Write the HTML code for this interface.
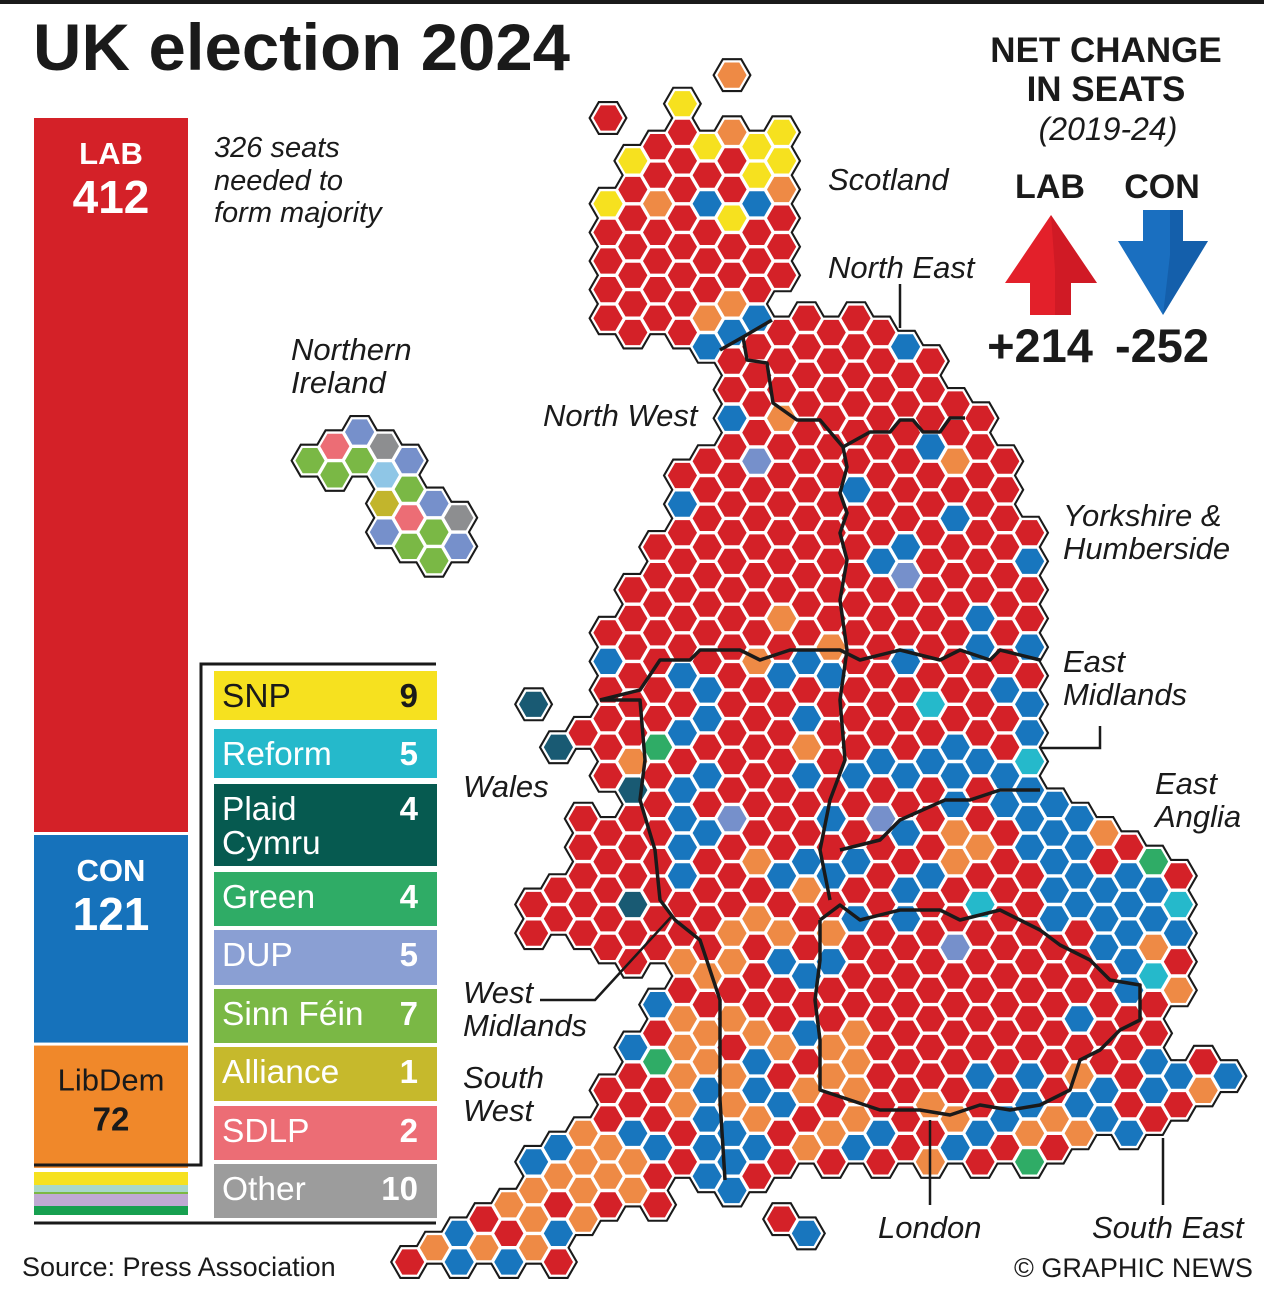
<!DOCTYPE html>
<html><head><meta charset="utf-8"><title>UK election 2024</title>
<style>
html,body{margin:0;padding:0;background:#fff;}
svg{display:block;font-family:"Liberation Sans",Arial,sans-serif;}
.it{font-style:italic;}
</style></head>
<body>
<svg id="chart" width="1264" height="1291" viewBox="0 0 1264 1291" xmlns="http://www.w3.org/2000/svg">
<rect x="0" y="0" width="1264" height="1291" fill="#fff"/>
<rect x="0" y="0" width="1264" height="4" fill="#1a1a1a"/>
<text x="33" y="70" font-size="66" font-weight="bold" fill="#1a1a1a" textLength="537" lengthAdjust="spacingAndGlyphs">UK election 2024</text>

<!-- seat bar -->
<g id="seatbar"></g>
<text class="it" font-size="29" fill="#1a1a1a"><tspan x="214" y="157">326 seats</tspan><tspan x="214" y="190">needed to</tspan><tspan x="214" y="222">form majority</tspan></text>

<!-- legend frame -->
<path d="M436,664 H201 V1165 H34" fill="none" stroke="#1a1a1a" stroke-width="3"/>
<line x1="34" y1="1223" x2="436" y2="1223" stroke="#1a1a1a" stroke-width="3"/>
<g id="legend"></g>

<!-- map -->
<g id="map"></g>
<g id="borders" fill="none" stroke="#1a1a1a" stroke-width="3.5" stroke-linejoin="round">
<polyline points="772,320 743,337 720,350"/>
<polyline points="743,337 747,360 767,363 773,403 797,420 820,420 843,447 847,467 840,493 847,513 840,533 847,560 840,600 847,650 840,700 845,760 830,800 820,850 830,900"/>
<polyline points="843,447 870,432 890,432 900,420 913,420 923,432 940,432 950,418 965,418"/>
<polyline points="600,700 640,690 660,660 690,660 700,650 740,650 760,660 790,650 840,650 860,660 900,650 940,660 960,650 990,660 1000,650 1040,660"/>
<polyline points="600,700 640,700 645,760 640,800 655,850 660,900 675,920 700,940 720,1000 720,1100 725,1180"/>
<polyline points="1040,790 1000,790 970,800 945,800 900,820 880,840 840,850"/>
<polyline points="820,920 840,905 860,920 900,910 940,910 960,920 1000,910 1040,930 1060,945 1090,960 1110,980 1140,985 1140,1020 1120,1030 1100,1050 1080,1060 1070,1090 1040,1105 1010,1110 980,1105 950,1115 920,1110 880,1110 850,1100 820,1090 820,1040 815,1000 820,960 820,920"/>
</g>

<!-- leader lines -->
<g stroke="#1a1a1a" stroke-width="2.5" fill="none">
<line x1="900" y1="284" x2="900" y2="328"/>
<polyline points="1040,748 1100,748 1100,726"/>
<polyline points="540,1000 595,1000 672,916"/>
<line x1="930" y1="1120" x2="930" y2="1205"/>
<line x1="1163" y1="1138" x2="1163" y2="1205"/>
</g>

<!-- region labels -->
<g class="it" font-size="31" fill="#1a1a1a">
<text x="828" y="190">Scotland</text>
<text x="828" y="278">North East</text>
<text><tspan x="291" y="360">Northern</tspan><tspan x="291" y="393">Ireland</tspan></text>
<text x="543" y="426">North West</text>
<text><tspan x="1063" y="526">Yorkshire &amp;</tspan><tspan x="1063" y="559">Humberside</tspan></text>
<text><tspan x="1063" y="672">East</tspan><tspan x="1063" y="705">Midlands</tspan></text>
<text x="463" y="797">Wales</text>
<text><tspan x="1155" y="794">East</tspan><tspan x="1155" y="827">Anglia</tspan></text>
<text><tspan x="463" y="1003">West</tspan><tspan x="463" y="1036">Midlands</tspan></text>
<text><tspan x="463" y="1088">South</tspan><tspan x="463" y="1121">West</tspan></text>
<text x="878" y="1238">London</text>
<text x="1092" y="1238">South East</text>
</g>

<!-- net change panel -->
<g fill="#1a1a1a" text-anchor="middle">
<text x="1106" y="62" font-size="35" font-weight="bold">NET CHANGE</text>
<text x="1106" y="101" font-size="35" font-weight="bold">IN SEATS</text>
<text x="1108" y="140" font-size="32" class="it">(2019-24)</text>
<text x="1050" y="198" font-size="34" font-weight="bold">LAB</text>
<text x="1162" y="198" font-size="34" font-weight="bold">CON</text>
<polygon points="1051,215 1097,283 1071,283 1071,315 1030,315 1030,283 1005,283" fill="#e3202a"/>
<polygon points="1051,215 1097,283 1071,283 1071,315 1055,315 1055,270" fill="#b8151e" opacity="0.45"/>
<polygon points="1143,210 1183,210 1183,241 1208,241 1163,315 1118,241 1143,241" fill="#1a6fc0"/>
<polygon points="1170,210 1183,210 1183,241 1208,241 1163,315 1170,255" fill="#0d4f95" opacity="0.5"/>
<text x="1040" y="362" font-size="47" font-weight="bold">+214</text>
<text x="1162" y="362" font-size="47" font-weight="bold">-252</text>
</g>

<text x="22" y="1276" font-size="27" fill="#1a1a1a">Source: Press Association</text>
<text x="1014" y="1277" font-size="27" fill="#1a1a1a">© GRAPHIC NEWS</text>
</svg>

<script>
// ---- data ----
const barParties = ["LAB", "CON", "LibDem"];
const barSeats = [412, 121, 72];
const legendParties = ["SNP", "Reform", "Plaid Cymru", "Green", "DUP", "Sinn Féin", "Alliance", "SDLP", "Other"];
const legendSeats = [9, 5, 4, 4, 5, 7, 1, 2, 10];
// GB hex map: column index -> list of [firstRow,lastRow] spans
const mapColumns = [-8,-7,-6,-5,-4,-3,-2,-1,0,1,2,3,4,5,6,7,8,9,10,11,12,13,14,15,16,17,18,19,20,21,22,23,24,25];
const mapSpans = [
 [[40,40]],[[40,40]],[[39,40]],[[39,40]],[[38,40]],
 [[21,21],[28,29],[37,40]],[[22,22],[27,28],[36,40]],[[22,22],[25,29],[36,39]],
 [[0,0],[3,7],[18,23],[25,29],[34,38]],[[2,8],[17,30],[33,38]],[[1,7],[15,29],[31,38]],
 [[0,8],[13,37]],[[1,8],[12,37]],[[-1,-1],[1,38]],[[1,37]],[[1,6],[8,37],[39,39]],
 [[7,36],[39,39]],[[8,37]],[[7,36]],[[8,37]],[[8,36]],[[9,37]],[[10,36]],[[11,37]],
 [[12,36]],[[15,37]],[[24,36]],[[25,36]],[[25,35]],[[26,36]],[[26,35]],[[27,31],[34,35]],[[33,34]],[[34,34]]
];
// non-Labour seats [column,row,party]
const mapSeats = [
 [3,0,"S"],[5,1,"L"],[7,1,"S"],[4,1,"S"],[6,1,"S"],[1,2,"S"],[7,2,"S"],[6,2,"S"],[7,3,"L"],[0,3,"S"],[2,3,"L"],[4,3,"C"],[6,3,"C"],[5,4,"S"],[5,-1,"L"],[5,7,"L"],[4,7,"L"],[6,7,"C"],[5,8,"C"],[4,8,"C"],
 [12,8,"C"],[5,11,"C"],[7,11,"L"],[13,12,"C"],[14,12,"L"],[6,12,"D"],[10,13,"C"],[3,14,"C"],[14,14,"C"],[12,15,"C"],[11,16,"C"],[12,16,"D"],[17,16,"C"],[15,18,"C"],[7,18,"L"],[9,19,"L"],[6,19,"L"],[0,19,"C"],
 [3,20,"C"],[4,20,"C"],[7,20,"C"],[8,19,"C"],[9,20,"C"],[4,21,"C"],[3,22,"C"],[8,21,"C"],[2,22,"G"],[1,23,"L"],[8,22,"L"],[3,24,"C"],[4,23,"C"],[8,23,"C"],[1,24,"P"],[10,23,"C"],[11,23,"C"],[3,25,"C"],[5,25,"D"],[4,25,"C"],[9,25,"C"],[11,25,"D"],[3,26,"C"],[6,26,"L"],[8,26,"C"],[10,26,"C"],[3,27,"C"],[8,27,"L"],[7,27,"C"],[9,27,"C"],[1,28,"P"],[10,28,"C"],[6,28,"L"],[5,29,"L"],[7,29,"L"],[9,29,"L"],[12,28,"C"],
 [15,19,"C"],[17,19,"C"],[12,19,"C"],[16,20,"C"],[13,21,"R"],[17,21,"C"],[17,22,"C"],[14,22,"C"],[13,23,"C"],[15,23,"C"],[17,23,"R"],[12,23,"C"],[14,23,"C"],[16,23,"C"],[17,24,"C"],[14,24,"C"],[16,24,"C"],[18,24,"C"],[12,25,"C"],[17,25,"C"],[19,25,"C"],[14,25,"L"],[15,26,"L"],[14,26,"L"],[20,25,"L"],[22,26,"G"],[18,25,"C"],[15,28,"R"],[23,28,"R"],[22,29,"L"],[14,29,"D"],[13,27,"C"],[12,27,"C"],
 [17,26,"C"],[18,26,"C"],[19,26,"C"],[19,28,"C"],[20,27,"C"],[20,28,"C"],[21,27,"C"],[21,28,"C"],[22,27,"C"],[22,28,"C"],[23,29,"C"],[21,30,"C"],[18,28,"C"],[22,30,"R"],[23,31,"L"],[21,29,"C"],[19,27,"C"],[20,29,"C"],[18,27,"C"],
 [9,30,"C"],[21,31,"C"],[19,32,"C"],[10,32,"L"],[9,33,"L"],[10,33,"L"],[9,34,"L"],[10,34,"L"],[15,34,"C"],[17,34,"C"],[19,34,"L"],[22,33,"C"],[23,34,"C"],[25,34,"C"],[24,34,"L"],[20,34,"C"],[22,34,"C"],[13,35,"L"],[17,35,"C"],[19,35,"C"],[20,35,"C"],[21,36,"C"],[9,36,"L"],[10,35,"L"],[11,36,"C"],[14,35,"L"],[15,36,"C"],[16,35,"C"],[17,36,"L"],[18,35,"L"],[19,36,"L"],[14,36,"C"],[17,37,"G"],[10,36,"C"],[8,36,"L"],[13,37,"L"],
 [3,30,"L"],[4,30,"L"],[5,30,"L"],[7,30,"C"],[8,30,"C"],[2,31,"C"],[3,32,"L"],[4,32,"L"],[5,32,"L"],[6,32,"L"],[7,33,"L"],[8,32,"C"],[1,33,"C"],[2,33,"G"],[3,33,"L"],[4,33,"L"],[6,33,"C"],[3,34,"L"],[4,34,"C"],[5,34,"L"],[6,34,"C"],[7,35,"C"],[8,34,"L"],[3,35,"L"],[4,35,"C"],[5,35,"L"],[1,36,"C"],[2,36,"C"],[4,36,"C"],[6,35,"L"],[5,36,"C"],[5,37,"C"],[6,36,"C"],[4,37,"C"],[5,38,"C"],
 [-1,36,"L"],[-2,36,"C"],[-3,37,"C"],[0,36,"L"],[1,37,"L"],[-1,37,"L"],[-2,37,"L"],[-3,38,"L"],[0,37,"L"],[1,38,"L"],[-1,38,"L"],[-4,38,"L"],[-3,39,"L"],[-1,39,"L"],[-2,39,"C"],[-6,39,"C"],[-5,40,"L"],[-6,40,"C"],[-7,40,"L"],[-3,40,"L"],[-4,40,"C"],[8,39,"C"],
 [-3,21,"P"],[-2,22,"P"]
];
// Northern Ireland hexes [column, half-row, party]
const niSeats = [[2,0,"D"],[1,1,"SD"],[3,1,"O"],[0,2,"SF"],[2,2,"SF"],[4,2,"D"],[1,3,"SF"],[3,3,"I"],[4,4,"SF"],[3,5,"A"],[5,5,"D"],[4,6,"SD"],[6,6,"O"],[3,7,"D"],[5,7,"SF"],[4,8,"SF"],[6,8,"D"],[5,9,"SF"]];

const NS = "http://www.w3.org/2000/svg";
const partyColor = {LAB:"#d42128",C:"#1876be",L:"#ee8a45",S:"#f6e11f",R:"#25b9cb",P:"#195a73",G:"#2fac66",D:"#7690cb",SF:"#7ab845",SD:"#ec6d75",O:"#8d8e90",A:"#c2b52c",I:"#8fc6e6"};
function mk(tag, attrs, parent){const e=document.createElementNS(NS,tag);for(const k in attrs)e.setAttribute(k,attrs[k]);parent.appendChild(e);return e;}

// ---- seat bar ----
const barG = document.getElementById("seatbar");
const barTop = 118, barBottomLab = 835, seatScale = (barBottomLab - barTop) / barSeats[0];
const barFill = ["#d42128", "#1672bb", "#f0882a"];
const barText = ["#fff", "#fff", "#1a1a1a"];
let yCur = barTop;
barParties.forEach((p, i) => {
  const h = barSeats[i] * seatScale;
  const r = mk("rect", {x:34, y:yCur, width:154, height:h - 3, fill:barFill[i]}, barG);
  
  
  const t1 = mk("text", {x:111, y:yCur + (i===2?45:46), "text-anchor":"middle", "font-size":31, "font-weight":i===2?"normal":"bold", fill:barText[i]}, barG);
  t1.textContent = p;
  
  
  const t2 = mk("text", {x:111, y:yCur + (i===2?85:95), "text-anchor":"middle", "font-size":i===2?33:46, "font-weight":"bold", fill:barText[i]}, barG);
  t2.textContent = barSeats[i];
  
  
  yCur += h;
});
// small parties strip
const stripColors = ["#f6e11f","#a9d8c8","#7cb843","#c0a9d3","#17a050"];
const stripH = [13,7,2,12,9];
let sy = 1172;
stripColors.forEach((c,i)=>{
  const r = mk("rect",{x:34,y:sy,width:154,height:stripH[i],fill:c},barG);
  
  
  sy += stripH[i];
});

// ---- legend ----
const legG = document.getElementById("legend");
const legFill = ["#f6e11f","#25b9cb","#065a50","#2fac66","#8a9fd3","#7ab845","#c6b92c","#ec6d75","#9c9c9c"];
const legTop = [671,729,784,872,930,989,1047,1106,1164];
const legH = [49,49,82,54,55,54,54,54,54];
legendParties.forEach((p,i)=>{
  const r = mk("rect",{x:214,y:legTop[i],width:223,height:legH[i],fill:legFill[i]},legG);
  
  
  const col = i===0 ? "#1a1a1a" : "#fff";
  const words = p==="Plaid Cymru" ? ["Plaid","Cymru"] : [p];
  words.forEach((w,j)=>{
    const t = mk("text",{x:222,y:legTop[i]+36+j*34,"font-size":33.5,fill:col},legG);
    t.textContent = w;
    
    
  });
  const v = mk("text",{x:418,y:legTop[i]+36,"font-size":33,"font-weight":"bold","text-anchor":"end",fill:col},legG);
  v.textContent = legendSeats[i];
  
  
});

// ---- hex map ----
const mapG = document.getElementById("map");
const X0 = 608, DX = 24.8, Y0 = 118, DY = 28.6;
function hexPts(cx, cy, R){const h=R*Math.sqrt(3)/2;return [[cx+R,cy],[cx+R/2,cy+h],[cx-R/2,cy+h],[cx-R,cy],[cx-R/2,cy-h],[cx+R/2,cy-h]].map(p=>p[0].toFixed(1)+","+p[1].toFixed(1)).join(" ");}
function xOf(c){return X0 + c*DX;}
function yOf(c,r){return Y0 + r*DY - (Math.abs(c)%2===1 ? DY/2 : 0);}
const cells = [];
mapColumns.forEach((c,i)=>{ mapSpans[i].forEach(sp=>{ for(let r=sp[0]; r<=sp[1]; r++) cells.push([c,r]); }); });
const seatLookup = {};
mapSeats.forEach(s=>{ seatLookup[s[0]+"_"+s[1]] = s[2]; });
const niX0 = 310, niY0 = 432;
const niCells = niSeats.map(s=>[niX0 + s[0]*DX, niY0 + s[1]*DY/2, s[2]]);
const allPos = cells.map(([c,r])=>[xOf(c), yOf(c,r), seatLookup[c+"_"+r] || "LAB"]).concat(niCells);
const layerBlack = mk("g",{},mapG), layerWhite = mk("g",{},mapG), layerCol = mk("g",{},mapG);
allPos.forEach(([x,y])=>{
  mk("polygon",{points:hexPts(x,y,19.6),fill:"#1a1a1a"},layerBlack);
  mk("polygon",{points:hexPts(x,y,17.2),fill:"#fff"},layerWhite);
});
allPos.forEach(([x,y,p])=>{
  const h = mk("polygon",{points:hexPts(x,y,14.6),fill:partyColor[p]},layerCol);
  
  
});
</script>
</body></html>
